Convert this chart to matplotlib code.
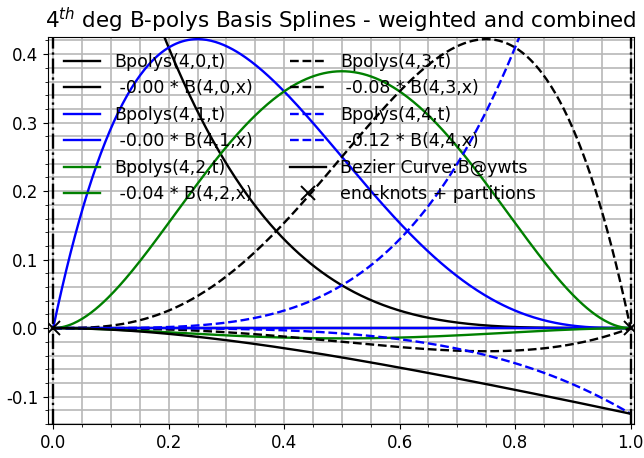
import numpy as np
import matplotlib
matplotlib.use("Agg")
import matplotlib.pyplot as plt
from matplotlib.ticker import MultipleLocator
from math import comb

plt.rcParams["axes.unicode_minus"] = False

degree = 4
ywts = [-0.0, -0.0, -0.04, -0.08, -0.125]
colors = ["k", "b", "g", "k", "b"]
styles = ["-", "-", "-", "--", "--"]
knots = [0.0, 1.0]

t = np.linspace(0, 1, 400)


def bpoly(n, i, x):
    return comb(n, i) * x**i * (1 - x)**(n - i)


fig = plt.figure(figsize=(6.44, 4.58), dpi=100)
ax = fig.add_axes([0.0745, 0.0742, 0.910, 0.845])

handles = []
for i in range(degree + 1):
    h1, = ax.plot(t, bpoly(degree, i, t), color=colors[i], ls=styles[i], lw=1.7,
                  label=f"Bpolys({degree},{i},t)")
    h2, = ax.plot(t, ywts[i] * bpoly(degree, i, t), color=colors[i], ls=styles[i], lw=1.7,
                  label=f" {ywts[i]:.2f} * B({degree},{i},x)")
    handles += [h1, h2]

curve = sum(ywts[i] * bpoly(degree, i, t) for i in range(degree + 1))
hb, = ax.plot(t, curve, color="k", lw=1.7, label="Bezier Curve:B@ywts")
hk, = ax.plot(knots, [0, 0], "kx", ms=10, mew=1.4, label="end-knots + partitions")
handles += [hb, hk]

for k in knots:
    ax.axvline(k, color="k", ls="-.", lw=1.7)

ax.set_xlim(-0.009, 1.006)
ax.set_ylim(-0.14, 0.425)
ax.xaxis.set_major_locator(MultipleLocator(0.2))
ax.xaxis.set_minor_locator(MultipleLocator(0.05))
ax.yaxis.set_major_locator(MultipleLocator(0.1))
ax.yaxis.set_minor_locator(MultipleLocator(0.02))
ax.grid(which="both", color="#b8b8b8", lw=1.2)
ax.set_axisbelow(True)
ax.tick_params(labelsize=12)

ax.set_title(r"4$^{th}$ deg B-polys Basis Splines - weighted and combined", fontsize=15.5)
ax.legend(handles=handles, ncol=2, loc="upper left", frameon=False, fontsize=12.5,
          handlelength=2.1, labelspacing=0.49, columnspacing=2.15,
          borderaxespad=0.5)

fig.savefig("out.png", dpi=100)
